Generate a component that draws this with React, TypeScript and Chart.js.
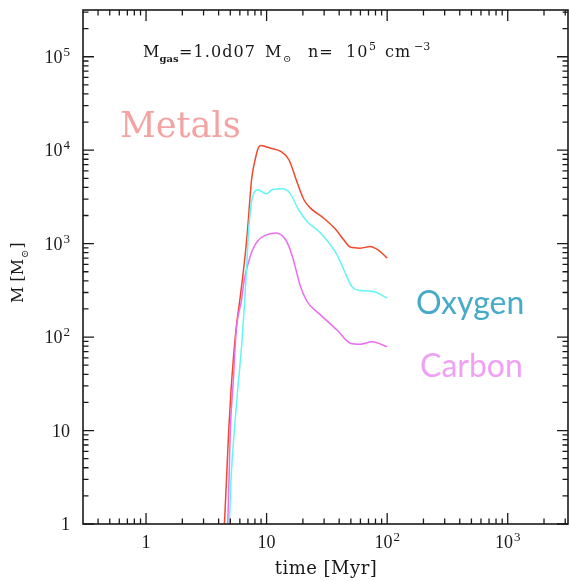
import { useEffect, useRef } from 'react';
import { Chart, registerables } from 'chart.js';
Chart.register(...registerables);

// ---- data (time in Myr, mass in solar masses) ----
const metalsTime = [4.47, 4.65, 4.85, 5.07, 5.57, 6.0, 6.53, 6.95, 7.5, 8.14, 8.51, 8.96, 10.8, 13.1, 15.3, 18.0, 20.4, 23.1, 29.8, 37.2, 43.6, 49.4, 59.8, 72.3, 84.6, 100];
const metalsMass = [1, 3, 10, 27, 119, 250, 617, 1400, 4800, 8500, 10500, 11200, 10500, 9700, 7900, 4450, 2950, 2400, 1870, 1430, 1100, 920, 895, 930, 850, 700];

const oxygenTime = [4.91, 5.07, 5.4, 5.75, 6.2, 6.55, 6.85, 7.1, 7.65, 8.5, 9.98, 11.2, 13.5, 15.6, 18.5, 21.7, 28, 38.4, 43.7, 51, 59.8, 77, 100];
const oxygenMass = [1, 3, 10, 27, 79, 220, 600, 1400, 3180, 3770, 3410, 3800, 3860, 3470, 2290, 1730, 1300, 760, 525, 347, 315, 308, 261];

const carbonTime = [4.76, 4.88, 5.0, 5.3, 5.6, 6.2, 6.53, 7.04, 7.65, 8.5, 9.54, 11.9, 14.4, 16.4, 19.1, 21.7, 28, 38.4, 49.4, 60, 74.6, 100];
const carbonMass = [1, 3, 10, 35, 119, 250, 410, 617, 860, 1080, 1210, 1300, 1100, 725, 347, 240, 173, 119, 86, 84, 89, 79];

const xDecades = [1, 10, 100, 1000];
const yDecades = [1, 10, 100, 1000, 10000, 100000];
const xTickBase = ['1', '10', '10', '10'];
const xTickExp = ['', '', '2', '3'];
const yTickBase = ['1', '10', '10', '10', '10', '10'];
const yTickExp = ['', '', '2', '3', '4', '5'];
const xMin = 0.31623;
const xMax = 3162.3;
const yMin = 1;
const yMax = 316228;

const toPoints = (t: number[], m: number[]) => t.map((v, i) => ({ x: v, y: m[i] }));

const minorValues = (lo: number, hi: number) => {
  const out: number[] = [];
  for (let e = -2; e <= 6; e++) {
    const d = Math.pow(10, e);
    for (let k = 2; k <= 9; k++) {
      const v = d * k;
      if (v > lo && v < hi) out.push(v);
    }
  }
  return out;
};

const SERIF = '"DejaVu Serif", serif';
const TICKF = '"Liberation Serif", serif';

const framePlugin = {
  id: 'framePlugin',
  afterDatasetsDraw(chart: any) {
    const { ctx, chartArea: a, scales } = chart;
    const x = scales.x;
    const y = scales.y;
    ctx.save();
    // frame
    ctx.strokeStyle = '#1a1a1a';
    ctx.lineWidth = 1.6;
    ctx.strokeRect(a.left, a.top, a.right - a.left, a.bottom - a.top);
    // ticks
    ctx.lineWidth = 1.3;
    ctx.beginPath();
    const xt = (v: number, len: number) => {
      const px = x.getPixelForValue(v);
      ctx.moveTo(px, a.bottom);
      ctx.lineTo(px, a.bottom - len);
      ctx.moveTo(px, a.top);
      ctx.lineTo(px, a.top + len);
    };
    const yt = (v: number, len: number) => {
      const py = y.getPixelForValue(v);
      ctx.moveTo(a.left, py);
      ctx.lineTo(a.left + len, py);
      ctx.moveTo(a.right, py);
      ctx.lineTo(a.right - len, py);
    };
    xDecades.forEach((v) => xt(v, 11));
    minorValues(xMin, xMax).forEach((v) => xt(v, 5.5));
    yDecades.forEach((v) => yt(v, 11));
    minorValues(yMin, yMax).forEach((v) => yt(v, 5.5));
    ctx.stroke();

    // tick labels
    ctx.fillStyle = '#1a1a1a';
    ctx.textBaseline = 'alphabetic';
    ctx.textAlign = 'left';
    const baseFont = `18px ${TICKF}`;
    const expFont = `13px ${TICKF}`;
    xDecades.forEach((v, i) => {
      const px = x.getPixelForValue(v);
      ctx.font = baseFont;
      const wb = ctx.measureText(xTickBase[i]).width;
      ctx.font = expFont;
      const we = xTickExp[i] ? ctx.measureText(xTickExp[i]).width + 1 : 0;
      const start = px - (wb + we) / 2;
      ctx.font = baseFont;
      ctx.fillText(xTickBase[i], start, 548);
      if (xTickExp[i]) {
        ctx.font = expFont;
        ctx.fillText(xTickExp[i], start + wb + 1, 541);
      }
    });
    yDecades.forEach((v, i) => {
      const py = y.getPixelForValue(v);
      ctx.font = baseFont;
      const wb = ctx.measureText(yTickBase[i]).width;
      ctx.font = expFont;
      const we = yTickExp[i] ? ctx.measureText(yTickExp[i]).width + 1 : 0;
      const right = 70;
      const start = right - wb - we;
      ctx.font = baseFont;
      ctx.fillText(yTickBase[i], start, py + 6);
      if (yTickExp[i]) {
        ctx.font = expFont;
        ctx.fillText(yTickExp[i], start + wb + 1, py - 1);
      }
    });

    // axis titles
    ctx.font = `18px ${SERIF}`;
    ctx.textAlign = 'center';
    (ctx as any).letterSpacing = '0.5px';
    ctx.fillText('time [Myr]', 326, 574);
    (ctx as any).letterSpacing = '0px';

    ctx.save();
    ctx.translate(23, 303);
    ctx.rotate(-Math.PI / 2);
    ctx.textAlign = 'left';
    ctx.font = `16px ${SERIF}`;
    let cx = 0;
    ctx.fillText('M [M', cx, 0);
    cx += ctx.measureText('M [M').width;
    ctx.font = `10px ${SERIF}`;
    ctx.fillText('\u2299', cx + 1, 5);
    cx += ctx.measureText('\u2299').width + 2;
    ctx.font = `16px ${SERIF}`;
    ctx.fillText(']', cx, 0);
    ctx.restore();

    // top annotation
    ctx.textAlign = 'left';
    (ctx as any).letterSpacing = '1px';
    ctx.font = `16px ${SERIF}`;
    ctx.fillText('M', 143, 57);
    (ctx as any).letterSpacing = '0px';
    ctx.font = `bold 10px ${SERIF}`;
    ctx.fillText('gas', 159.5, 62);
    (ctx as any).letterSpacing = '1.1px';
    ctx.font = `16px ${SERIF}`;
    ctx.fillText('=1.0d07', 179, 57);
    ctx.fillText('M', 265, 57);
    (ctx as any).letterSpacing = '0px';
    ctx.font = `10px ${SERIF}`;
    ctx.fillText('\u2299', 283, 62);
    (ctx as any).letterSpacing = '1px';
    ctx.font = `16px ${SERIF}`;
    ctx.fillText('n=', 308, 57);
    ctx.fillText('10', 346, 57);
    ctx.fillText('cm', 385, 57);
    (ctx as any).letterSpacing = '0px';
    ctx.font = `11px ${SERIF}`;
    ctx.fillText('5', 369, 50);
    ctx.fillText('\u22123', 414, 50);

    // series labels
    ctx.font = `35px ${SERIF}`;
    ctx.fillStyle = 'rgb(245,162,162)';
    ctx.fillText('Metals', 120, 137);
    ctx.font = `32px Lato, sans-serif`;
    ctx.fillStyle = 'rgb(70,170,200)';
    ctx.fillText('Oxygen', 416, 314);
    ctx.fillStyle = 'rgb(240,160,245)';
    ctx.fillText('Carbon', 420, 377);
    ctx.restore();
  },
};

export default function App() {
  const ref = useRef<HTMLCanvasElement | null>(null);
  useEffect(() => {
    if (!ref.current) return;
    const chart = new Chart(ref.current, {
      type: 'line',
      data: {
        datasets: [
          {
            label: 'Oxygen',
            data: toPoints(oxygenTime, oxygenMass),
            borderColor: 'rgb(100,245,245)',
            borderWidth: 1.5,
            pointRadius: 0,
            cubicInterpolationMode: 'monotone',
          },
          {
            label: 'Carbon',
            data: toPoints(carbonTime, carbonMass),
            borderColor: 'rgb(235,110,240)',
            borderWidth: 1.5,
            pointRadius: 0,
            cubicInterpolationMode: 'monotone',
          },
          {
            label: 'Metals',
            data: toPoints(metalsTime, metalsMass),
            borderColor: 'rgb(240,72,45)',
            borderWidth: 1.5,
            pointRadius: 0,
            cubicInterpolationMode: 'monotone',
          },
        ],
      },
      options: {
        animation: false,
        responsive: false,
        layout: { padding: { top: 10, right: 2, left: 0, bottom: 0 } },
        plugins: { legend: { display: false }, tooltip: { enabled: false } },
        scales: {
          x: {
            type: 'logarithmic',
            min: xMin,
            max: xMax,
            afterBuildTicks: (s: any) => {
              s.ticks = xDecades.map((v) => ({ value: v }));
            },
            afterFit: (s: any) => {
              s.height = 57;
            },
            ticks: { display: false },
            grid: { display: false },
            border: { display: false },
          },
          y: {
            type: 'logarithmic',
            min: yMin,
            max: yMax,
            afterBuildTicks: (s: any) => {
              s.ticks = yDecades.map((v) => ({ value: v }));
            },
            afterFit: (s: any) => {
              s.width = 83;
            },
            ticks: { display: false },
            grid: { display: false },
            border: { display: false },
          },
        },
      },
      plugins: [framePlugin],
    } as any);
    return () => chart.destroy();
  }, []);
  return (
    <canvas
      ref={ref}
      width={570}
      height={581}
      style={{ position: 'absolute', left: 0, top: 0, display: 'block', background: '#fff' }}
    />
  );
}
